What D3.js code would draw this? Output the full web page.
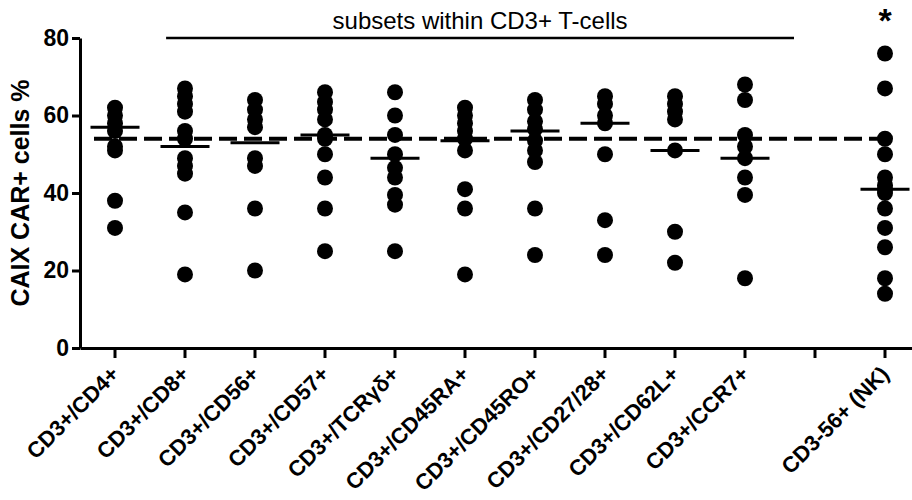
<!DOCTYPE html>
<html>
<head>
<meta charset="utf-8">
<script src="https://cdn.jsdelivr.net/npm/d3@7"></script>
<style>
  body { margin: 0; background: #fff; }
  text { font-family: "Liberation Sans", Arial, sans-serif; }
</style>
</head>
<body>
<svg width="912" height="500"></svg>
<script>
// categories along the x axis (one empty slot before NK)
var categories = ["CD3+/CD4+", "CD3+/CD8+", "CD3+/CD56+", "CD3+/CD57+", "CD3+/TCRγδ+",
  "CD3+/CD45RA+", "CD3+/CD45RO+", "CD3+/CD27/28+", "CD3+/CD62L+", "CD3+/CCR7+", "gap", "CD3-56+ (NK)"];

// % CAIX CAR+ cells per donor
var cd4    = [62, 60, 58, 56, 52, 51, 38, 31];
var cd8    = [67, 65, 63, 61, 56, 54, 49, 47, 45, 35, 19];
var cd56   = [64, 61.5, 59, 57, 49, 47, 36, 20];
var cd57   = [66, 63.5, 61.5, 59, 55, 54, 50, 44, 36, 25];
var tcrgd  = [66, 60, 55, 50, 46.5, 44, 39.5, 37, 25];
var cd45ra = [62, 60, 58, 56, 54, 51, 41, 36, 19];
var cd45ro = [64, 61.5, 58.5, 56.5, 53.5, 51, 48, 36, 24];
var cd2728 = [65, 63, 60, 58, 50, 33, 24];
var cd62l  = [65, 63, 61, 59, 51, 30, 22];
var ccr7   = [68, 64, 55, 52, 49, 44, 39.5, 18];
var gap    = [];
var nk     = [76, 67, 54, 50, 44, 42, 41, 40, 36, 31, 26, 18, 14];

// median line per category
var medians = [57, 52, 53, 55, 49, 53.5, 56, 58, 51, 49, null, 41];

// dashed reference level
var refLevel = 54;

var yTicks = [0, 20, 40, 60, 80];

var groups = [cd4, cd8, cd56, cd57, tcrgd, cd45ra, cd45ro, cd2728, cd62l, ccr7, gap, nk];

var svg = d3.select("svg");
var plotLeft = 80, plotTop = 38, plotBottom = 348;

var x = d3.scaleBand()
    .domain(categories)
    .range([plotLeft, plotLeft + 70 * categories.length]);
var step = x.bandwidth();
function cx(c) { return x(c) + step / 2; }

var y = d3.scaleLinear()
    .domain([0, 80])
    .range([plotBottom, plotTop]);

// flatten the points
var points = [];
groups.forEach(function(vals, i) {
  vals.forEach(function(v) { points.push({cat: categories[i], value: v}); });
});

// y axis
var yAxis = svg.append("g")
    .attr("transform", "translate(" + plotLeft + ",0)")
    .call(d3.axisLeft(y).tickValues(yTicks).tickSize(8).tickPadding(3).tickSizeOuter(0));
yAxis.select(".domain").attr("stroke-width", 3);
yAxis.selectAll(".tick line").attr("stroke-width", 3);
yAxis.selectAll(".tick text")
    .attr("font-size", 23).attr("font-weight", "bold").attr("fill", "#000");

// x axis
var xAxis = svg.append("g")
    .attr("transform", "translate(0," + plotBottom + ")")
    .call(d3.axisBottom(x).tickSize(10).tickSizeOuter(0).tickFormat(function(d) { return d == "gap" ? "" : d; }));
xAxis.select(".domain").attr("stroke-width", 3);
xAxis.selectAll(".tick line").attr("stroke-width", 3);
xAxis.selectAll(".tick text")
    .attr("font-size", 22).attr("font-weight", "bold").attr("fill", "#000")
    .attr("text-anchor", "end")
    .attr("transform", "translate(0,22) rotate(-45)")
    .attr("dy", "0.35em").attr("y", 0);

svg.append("text")
    .attr("transform", "translate(29," + ((plotTop + plotBottom) / 2) + ") rotate(-90)")
    .attr("text-anchor", "middle")
    .attr("font-size", 25).attr("font-weight", "bold")
    .text("CAIX CAR+ cells %");

// dashed reference line
svg.append("line")
    .attr("x1", cx(categories[0]) - 0.3 * step)
    .attr("x2", cx(categories[11]))
    .attr("y1", y(refLevel)).attr("y2", y(refLevel))
    .attr("stroke", "#000").attr("stroke-width", 4)
    .attr("stroke-dasharray", "18,7");

// dots
svg.append("g")
    .selectAll("circle")
    .data(points)
    .enter().append("circle")
    .attr("cx", function(d) { return cx(d.cat); })
    .attr("cy", function(d) { return y(d.value); })
    .attr("r", 8)
    .attr("fill", "#000");

// median lines
svg.append("g")
    .selectAll("line")
    .data(categories.filter(function(c, i) { return medians[i] != null; }))
    .enter().append("line")
    .attr("x1", function(c) { return cx(c) - 0.35 * step; })
    .attr("x2", function(c) { return cx(c) + 0.35 * step; })
    .attr("y1", function(c) { return y(medians[categories.indexOf(c)]); })
    .attr("y2", function(c) { return y(medians[categories.indexOf(c)]); })
    .attr("stroke", "#000").attr("stroke-width", 3);

// bracket over the T-cell subsets
svg.append("line")
    .attr("x1", cx(categories[1]) - 0.27 * step)
    .attr("x2", cx(categories[9]) + 0.7 * step)
    .attr("y1", plotTop).attr("y2", plotTop)
    .attr("stroke", "#000").attr("stroke-width", 2.5);

svg.append("text")
    .attr("x", (cx(categories[1]) - 0.27 * step + cx(categories[9]) + 0.7 * step) / 2)
    .attr("y", 29)
    .attr("text-anchor", "middle")
    .attr("font-size", 24)
    .text("subsets within CD3+ T-cells");

svg.append("text")
    .attr("x", cx(categories[11]))
    .attr("y", 32)
    .attr("text-anchor", "middle")
    .attr("font-size", 34).attr("font-weight", "bold")
    .text("*");
</script>
</body>
</html>
